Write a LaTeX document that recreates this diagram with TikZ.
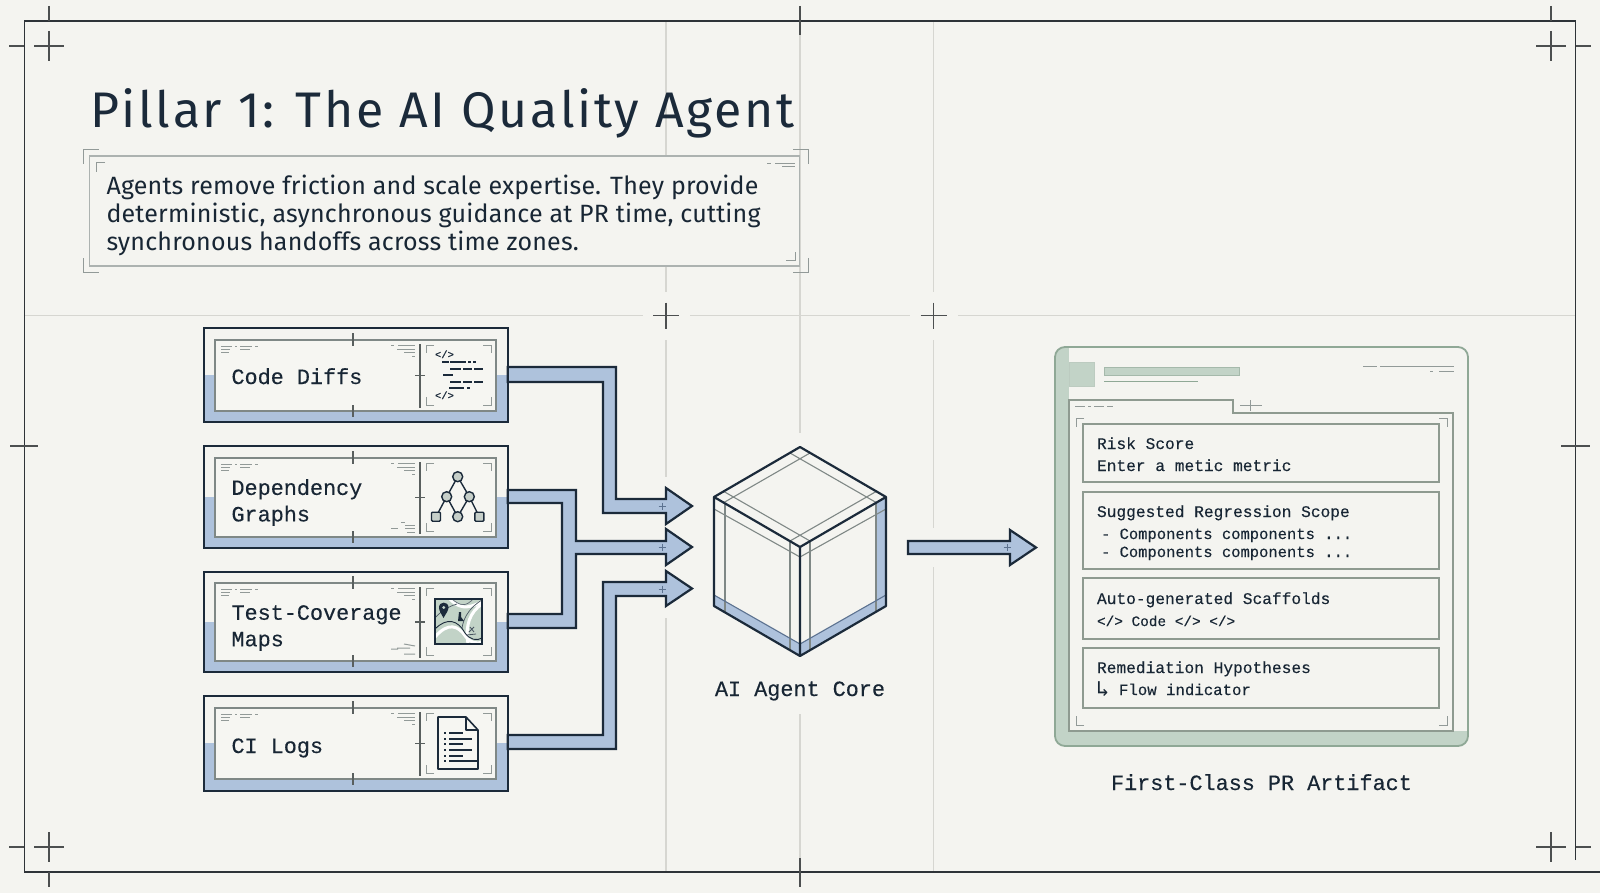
\documentclass[tikz,border=0pt]{standalone}
\usepackage{fontspec}
\setmainfont{Fira Sans}
\newfontfamily\plexmono[FakeBold=0.25]{Liberation Mono}
\newfontfamily\plexsans[LetterSpace=0.8]{Fira Sans}
\newfontfamily\titlefont[LetterSpace=5.4]{Fira Sans}
\newfontfamily\symfont{DejaVu Sans Mono}
\usetikzlibrary{calc}
\definecolor{paper}{HTML}{F4F4F0}
\definecolor{innerpaper}{HTML}{F6F6F2}
\definecolor{ink}{HTML}{1B2A3A}
\definecolor{framec}{HTML}{2E3338}
\definecolor{crossc}{HTML}{4C4F50}
\definecolor{guide}{HTML}{D6D6D1}
\definecolor{bluefill}{HTML}{AEC2DC}
\definecolor{bluemark}{HTML}{5C7290}
\definecolor{grayline}{HTML}{7F8886}
\definecolor{greenfill}{HTML}{C2D3C7}
\definecolor{greenline}{HTML}{8FA896}
\definecolor{panelline}{HTML}{8E9A90}
\tikzset{
  x=1pt,y=-1pt,
  guideline/.style={draw=guide,line width=1.2pt},
  framel/.style={draw=framec,line width=1.8pt},
  crossl/.style={draw=crossc,line width=1.5pt},
  cardouter/.style={fill=paper,rectangle,inner sep=0,outer sep=0,minimum width=303.7pt},
  cardinner/.style={draw=grayline,line width=1.3pt,fill=innerpaper,rectangle,inner sep=0,outer sep=0,minimum width=281pt},
  bigmono/.style={inner sep=0,outer sep=0,anchor=base west,text=ink!90!black,font=\plexmono\fontsize{21.8}{26.5}\selectfont,align=left},
  smallmono/.style={inner sep=0,outer sep=0,anchor=base west,text=ink!90!black,font=\plexmono\fontsize{16.2}{19}\selectfont,align=left},
  tinymono/.style={inner sep=0,outer sep=0,anchor=base west,text=ink,font=\plexmono\fontsize{10.5}{12}\selectfont},
  corner/.style={draw=grayline!85,line width=1pt},
  greek/.style={draw=grayline!85,line width=1pt},
  tick/.style={draw=grayline!70!black,line width=1.3pt},
  fatarrow/.style={draw=ink,line width=2.2pt,fill=bluefill,line join=miter},
  arrowmark/.style={draw=bluemark,line width=.8pt},
  icon/.style={draw=ink,line width=1.4pt},
  codedash/.style={draw=ink,line width=1.6pt},
  cubeedge/.style={draw=ink,line width=2.2pt,line join=round},
  cubefine/.style={draw=grayline,line width=1.1pt},
  bandbox/.style={draw=panelline,line width=1.4pt,fill=paper,rectangle,inner sep=0,outer sep=0,minimum width=356pt},
}
\newcommand{\brk}[4]{\draw[corner] ({#1+#3},#2) -- (#1,#2) -- (#1,{#2+#4});}
% name, outer top, outer bottom, inner top, inner bottom, blue top
\newcommand{\mkcard}[6]{%
  \node[cardouter,minimum height={#3-#2}] (#1) at (355.85,{(#2+#3)/2}) {};
  \fill[bluefill] (204,#6) rectangle (507.7,#3);
  \draw[draw=ink,line width=2.4pt] (#1.north west) rectangle (#1.south east);
  \node[cardinner,minimum height={#5-#4}] (#1in) at (355.5,{(#4+#5)/2}) {};
  \draw[tick] (353,{#4-7}) -- (353,{#4+6});
  \draw[tick] (353,{#5-6}) -- (353,{#5+6});
  \draw[tick,line width=1.5pt] (420,{#4+4}) -- (420,{#5-3});
  \draw[tick] (415,{(#4+#5)/2}) -- (425,{(#4+#5)/2});
  \brk{426}{#4+5}{8}{8}\brk{491}{#4+5}{-8}{8}
  \brk{426}{#5-6}{8}{-8}\brk{491}{#5-6}{-8}{-8}
  \draw[greek] (221,{#4+6}) -- (232,{#4+6}) (235,{#4+6}) -- (237,{#4+6}) (240,{#4+6}) -- (252,{#4+6}) (255,{#4+6}) -- (258,{#4+6});
  \draw[greek] (221,{#4+9}) -- (230,{#4+9}) (240,{#4+9}) -- (250,{#4+9});
  \draw[greek] (221,{#4+12}) -- (229,{#4+12});
  \draw[greek] (391,{#4+5}) -- (394,{#4+5}) (398,{#4+5}) -- (415,{#4+5});
  \draw[greek] (397,{#4+9}) -- (415,{#4+9});
  \draw[greek] (404,{#4+12}) -- (415,{#4+12});
  \draw[greek] (412,{#4+16}) -- (415,{#4+16});
}
\newcommand{\crossat}[3]{\draw[crossl] ({#1-#3},#2) -- ({#1+#3},#2) (#1,{#2-#3}) -- (#1,{#2+#3});}
\begin{document}
\begin{tikzpicture}
\useasboundingbox (0,0) rectangle (1600,893);
\fill[paper] (0,0) rectangle (1600,893);
% guide lines
\draw[guideline] (24,315.7) -- (643,315.7) (690,315.7) -- (910,315.7) (958,315.7) -- (1575,315.7);
\draw[guideline] (666,21) -- (666,292) (666,340) -- (666,477) (666,618) -- (666,871);
\draw[guideline] (800,21) -- (800,433) (800,714) -- (800,871);
\draw[guideline] (933.7,21) -- (933.7,292) (933.7,340) -- (933.7,528) (933.7,567) -- (933.7,871);
\crossat{666}{315.7}{13}\crossat{933.7}{315.7}{13}
% frame
\draw[framel] (1575.5,860) -- (1575.5,21) -- (24.5,21) -- (24.5,871.7) -- (1600,871.7);
\draw[crossl] (49,6) -- (49,21) (9,46) -- (24,46) (800,6) -- (800,35) (10,446) -- (38,446)
  (1561,446) -- (1590,446) (800,858) -- (800,887) (1551,6) -- (1551,21) (1576,46) -- (1591,46)
  (9,847) -- (24,847) (1576,847) -- (1591,847) (49,872) -- (49,887);
\crossat{49}{46}{15}\crossat{1551}{46}{15}\crossat{49}{847}{15}\crossat{1551}{847}{15}
% title
\node[inner sep=0,outer sep=0,anchor=base west,text=ink,font=\titlefont\fontsize{50}{60}\selectfont] (title) at (90,127.5) {Pillar 1: The AI Quality Agent};
% description
\node[draw=grayline!65,line width=1.1pt,fill=paper,rectangle,inner sep=0,outer sep=0,minimum width=710pt,minimum height=110pt] (descbox) at (444.5,211) {};
\node[inner sep=0,outer sep=0,anchor=west,align=left,text=ink!90!black,font=\plexsans\fontsize{25}{28}\selectfont] (desctext) at (106.5,215.5) {Agents remove friction and scale expertise. They provide\\deterministic, asynchronous guidance at PR time, cutting\\synchronous handoffs across time zones.};
\brk{83.5}{149.5}{15}{15}\brk{808}{149.5}{-15}{15}
\brk{83.5}{273}{15}{-15}\brk{808}{273}{-15}{-15}
\brk{96}{163}{9}{9}\brk{795}{261}{-9}{-9}
\draw[greek] (767,164) -- (771,164) (775,164) -- (795,164) (782,167) -- (795,167);
% cards
\mkcard{cardA}{328}{422}{340}{411}{375}
\mkcard{cardB}{446}{548}{458}{537}{497}
\mkcard{cardC}{572}{672}{583}{661}{622}
\mkcard{cardD}{696}{791}{708}{779}{743}
\draw[greek] (391,528) -- (398,528) (401,522) -- (405,522) (405,525) -- (415,525) (405,528) -- (415,528) (407,532) -- (415,532);
\draw[greek] (391,649) -- (398,649) (397,648) -- (410,648) (404,644) -- (415,646) (404,654) -- (415,654);
\node[bigmono] (textA) at (231.5,384) {Code Diffs};
\node[bigmono,anchor=west] (textB) at (231.5,502.5) {Dependency\\Graphs};
\node[bigmono,anchor=west] (textC) at (231.5,628) {Test-Coverage\\Maps};
\node[bigmono] (textD) at (231.5,753) {CI Logs};
% code icon
\node[tinymono] (codeA) at (435,358) {</>};
\node[tinymono] (codeB) at (435,399) {</>};
\draw[codedash] (442,362) -- (449,362) (450,362) -- (466,362) (468,362) -- (471,362) (473,362) -- (476,362)
  (450,369) -- (461,369) (463,369) -- (472,369) (474,369) -- (483,369)
  (443,375) -- (453,375)
  (450,381.7) -- (461,381.7) (463,381.7) -- (472,381.7) (474,381.7) -- (483,381.7)
  (449,387.7) -- (464,387.7) (467,387.7) -- (470,387.7);
% graph icon
\draw[icon] (457.7,476.7) -- (446.7,496.7) -- (436,516.7) (446.7,496.7) -- (457.7,516.7) -- (469.3,496.7) -- (479.3,516.7) (457.7,476.7) -- (469.3,496.7);
\draw[icon,fill=greenfill!70!gray!70] (457.7,476.7) circle (5) (446.7,496.7) circle (5) (469.3,496.7) circle (5) (457.7,516.7) circle (5);
\draw[icon,fill=greenfill!70!gray!70,rounded corners=1pt] (431.5,512.2) rectangle (440.5,521.2) (474.8,512.2) rectangle (483.8,521.2);
% map icon
\begin{scope}
  \clip (435,599) rectangle (482,644);
  \fill[greenfill] (435,599) rectangle (482,644);
  \draw[white,line width=3pt] (435,637) .. controls (448,622) and (458,625) .. (466,637) .. controls (470,643) and (478,644) .. (482,642);
  \draw[white,line width=3pt] (450,599) .. controls (462,612) and (472,606) .. (482,602);
  \draw[white,line width=3pt] (468,644) .. controls (465,625) and (470,612) .. (482,604);
  \draw[ink,line width=.9pt] (435,629) .. controls (447,617) and (458,620) .. (465,633) .. controls (470,640) and (477,641) .. (482,638);
  \draw[ink!80,line width=.7pt] (435,618) .. controls (442,610) and (450,606) .. (457,604);
  \draw[ink!80,line width=.7pt] (462,628) .. controls (464,615) and (472,606) .. (482,600);
  \draw[ink!70,line width=.7pt] (452,599) .. controls (460,606) and (466,607) .. (473,599);
\end{scope}
\draw[ink,line width=1.6pt] (435,599) rectangle (482,644);
\fill[ink,even odd rule] (443.5,618) .. controls (441,613.5) and (439,610.5) .. (439,607.5) .. controls (439,601) and (448.5,601) .. (448.5,607.5) .. controls (448.5,610.5) and (446,613.5) .. (443.5,618) -- cycle (443.7,607.5) circle (1.8);
\fill[ink] (459,612) -- (461,612) -- (461,617) -- (464,621) -- (458,621) -- cycle;
\draw[ink!80,line width=.8pt] (469,632) -- (474,627) (470,627) -- (474,632) (467,635) -- (476,634);
% document icon
\draw[ink,line width=1.6pt,fill=innerpaper,line join=round] (438,717) -- (466,717) -- (478,730) -- (478,769) -- (438,769) -- cycle;
\draw[ink,line width=1.3pt,line join=round] (466,717) -- (466,730) -- (478,730);
\foreach \yy/\xe in {733/463,739/472,744/463,750/472,756/463,761/477}{
  \draw[ink,line width=1.3pt] (444,\yy) -- (446,\yy) (449,\yy) -- (\xe,\yy);
}
% named ends
\coordinate (tipA) at (692,506);
\coordinate (tipB) at (692,547);
\coordinate (tipC) at (692,588.5);
\coordinate (coreout) at (908,547.5);
\coordinate (artin) at (1036,547.5);
% connectors
\draw[fatarrow] (cardA.east |- 0,367) -- (616,367) -- (616,499) -- (666,499) -- (666,488) -- (tipA) -- (666,524) -- (666,513) -- (603,513) -- (603,382) -- (cardA.east |- 0,382) -- cycle;
\draw[fatarrow] (cardB.east |- 0,490) -- (576,490) -- (576,541) -- (666,541) -- (666,529) -- (tipB) -- (666,565) -- (666,554) -- (576,554) -- (576,628) -- (cardC.east |- 0,628) -- (cardC.east |- 0,614) -- (562,614) -- (562,503) -- (cardB.east |- 0,503) -- cycle;
\draw[fatarrow] (cardD.east |- 0,735) -- (603,735) -- (603,582) -- (666,582) -- (666,571) -- (tipC) -- (666,606) -- (666,596) -- (616,596) -- (616,749) -- (cardD.east |- 0,749) -- cycle;
\draw[fatarrow] (coreout) ++(0,-6.5) -- (1010,541) -- (1010,530) -- (artin) -- (1010,565) -- (1010,554) -- (908,554) -- cycle;
\draw[arrowmark] (658.5,506) -- (665.5,506) (662,502.5) -- (662,509.5) (658.5,547) -- (665.5,547) (662,543.5) -- (662,550.5) (658.5,589) -- (665.5,589) (662,585.5) -- (662,592.5) (1003.5,547.5) -- (1010.5,547.5) (1007,544) -- (1007,551);
% cube
\fill[paper] (800,447) -- (886,497) -- (886,606) -- (800,656) -- (714,606) -- (714,497) -- cycle;
\fill[bluefill] (714,595) -- (800,644) -- (886,595) -- (886,606) -- (800,656) -- (714,606) -- cycle;
\fill[bluefill] (876,503) -- (886,497) -- (886,606) -- (876,612) -- cycle;
\draw[cubefine] (790,453) -- (877,503) (810,453) -- (723,503) (723,491) -- (810,541) (877,491) -- (790,541);
\draw[cubefine] (714,509) -- (800,557) -- (886,509);
\draw[cubefine] (725,503) -- (725,612) (790,541) -- (790,650) (810,541) -- (810,650) (876,503) -- (876,612);
\draw[cubefine,bluemark] (714,595) -- (800,644) -- (886,595);
\draw[cubeedge] (800,447) -- (886,497) -- (886,606) -- (800,656) -- (714,606) -- (714,497) -- cycle (714,497) -- (800,547) -- (886,497) (800,547) -- (800,656);
\node[bigmono,anchor=base] (corelabel) at (800,696) {AI Agent Core};
% artifact
\node[fill=greenfill,rectangle,rounded corners=10pt,inner sep=0,outer sep=0,minimum width=413pt,minimum height=399pt] (artifact) at (1261.5,546.5) {};
\begin{scope}
  \clip[rounded corners=10pt] (1055,347) rectangle (1468,746);
  \fill[paper] (1069,340) rectangle (1480,731);
\end{scope}
\draw[draw=greenline,line width=1.8pt,rounded corners=10pt] (1055,347) rectangle (1468,746);
\fill[greenfill] (1069,362) rectangle (1094,386);
\draw[greenline!60,line width=.8pt] (1069,362) rectangle (1094,386);
\fill[greenfill] (1104,367) rectangle (1239,375);
\draw[greenline!80,line width=.8pt] (1104,367) rectangle (1239,375);
\draw[greenline,line width=1pt] (1104,381) -- (1198,381);
\draw[greek] (1363,366) -- (1377,366) (1380,366) -- (1454,366) (1430,371) -- (1433,371) (1439,371) -- (1454,371);
\draw[draw=panelline,line width=1.5pt,fill=paper] (1069,731) -- (1069,400) -- (1233,400) -- (1233,413) -- (1453,413) -- (1453,731) -- cycle;
\draw[greek] (1075,406.5) -- (1085,406.5) (1088,406.5) -- (1091,406.5) (1094,406.5) -- (1104,406.5) (1107,406.5) -- (1113,406.5);
\draw[greek] (1240,405) -- (1262,405) (1250,400) -- (1250,411);
\brk{1076}{418}{8}{9}\brk{1447}{418}{-8}{9}\brk{1076}{725}{8}{-9}\brk{1447}{725}{-8}{-9}
\node[bandbox,minimum height=58pt] (riskbox) at (1261,453) {};
\node[bandbox,minimum height=77pt] (scopebox) at (1261,530.5) {};
\node[bandbox,minimum height=61pt] (scafbox) at (1261,608.5) {};
\node[bandbox,minimum height=60pt] (remedbox) at (1261,678) {};
\node[smallmono] (risk1) at (1097,449) {Risk Score};
\node[smallmono] (risk2) at (1097,471) {Enter a metic metric};
\node[smallmono] (scope1) at (1097,517) {Suggested Regression Scope};
\node[smallmono,font=\plexmono\fontsize{15.5}{19}\selectfont] (scope2) at (1101,539) {- Components components ...};
\node[smallmono,font=\plexmono\fontsize{15.5}{19}\selectfont] (scope3) at (1101,557) {- Components components ...};
\node[smallmono] (scaf1) at (1097,604) {Auto-generated Scaffolds};
\node[smallmono,font=\plexmono\fontsize{14.4}{19}\selectfont] (scaf2) at (1097,626) {</> Code </> </>};
\node[smallmono] (rem1) at (1097,673) {Remediation Hypotheses};
\node[smallmono,font=\symfont\fontsize{22}{24}\selectfont] (rem2) at (1096,696) {↳};
\node[smallmono,font=\plexmono\fontsize{15.7}{19}\selectfont] (rem3) at (1119,695) {Flow indicator};
\node[bigmono] (artlabel) at (1111,790) {First-Class PR Artifact};
\end{tikzpicture}
\end{document}
